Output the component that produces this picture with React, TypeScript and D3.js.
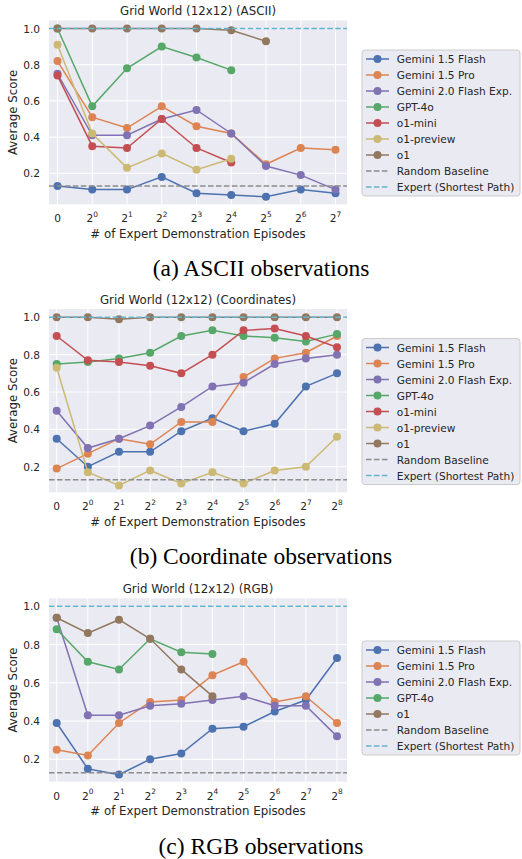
import React from 'react';
import * as d3 from 'd3';

// tick labels ("2^k" is drawn with a superscript)
const ticksAscii = ['0', '2^0', '2^1', '2^2', '2^3', '2^4', '2^5', '2^6', '2^7'];
const ticksCoord = ['0', '2^0', '2^1', '2^2', '2^3', '2^4', '2^5', '2^6', '2^7', '2^8'];
const ticksRgb = ['0', '2^0', '2^1', '2^2', '2^3', '2^4', '2^5', '2^6', '2^7', '2^8'];
const yTicks = [0.2, 0.4, 0.6, 0.8, 1.0];

const randomBaseline = 0.13;
const expertScore = 1.0;

// (a) ASCII
const asciiFlash = [0.13, 0.11, 0.11, 0.18, 0.09, 0.08, 0.07, 0.11, 0.09];
const asciiPro = [0.82, 0.51, 0.45, 0.57, 0.46, 0.42, 0.25, 0.34, 0.33];
const asciiFlash2 = [0.75, 0.41, 0.41, 0.5, 0.55, 0.42, 0.24, 0.19, 0.11];
const asciiGpt4o = [1.0, 0.57, 0.78, 0.9, 0.84, 0.77];
const asciiO1mini = [0.74, 0.35, 0.34, 0.5, 0.34, 0.26];
const asciiO1preview = [0.91, 0.42, 0.23, 0.31, 0.22, 0.28];
const asciiO1 = [1.0, 1.0, 1.0, 1.0, 1.0, 0.99, 0.93];

// (b) Coordinates
const coordFlash = [0.35, 0.2, 0.28, 0.28, 0.39, 0.46, 0.39, 0.43, 0.63, 0.7];
const coordPro = [0.19, 0.27, 0.35, 0.32, 0.44, 0.44, 0.68, 0.78, 0.81, 0.9];
const coordFlash2 = [0.5, 0.3, 0.35, 0.42, 0.52, 0.63, 0.65, 0.75, 0.78, 0.8];
const coordGpt4o = [0.75, 0.76, 0.78, 0.81, 0.9, 0.93, 0.9, 0.89, 0.87, 0.91];
const coordO1mini = [0.9, 0.77, 0.76, 0.74, 0.7, 0.8, 0.93, 0.94, 0.9, 0.84];
const coordO1preview = [0.73, 0.17, 0.1, 0.18, 0.11, 0.17, 0.11, 0.18, 0.2, 0.36];
const coordO1 = [1.0, 1.0, 0.99, 1.0, 1.0, 1.0, 1.0, 1.0, 1.0, 1.0];

// (c) RGB
const rgbFlash = [0.39, 0.15, 0.12, 0.2, 0.23, 0.36, 0.37, 0.45, 0.51, 0.73];
const rgbPro = [0.25, 0.22, 0.39, 0.5, 0.51, 0.64, 0.71, 0.5, 0.53, 0.39];
const rgbFlash2 = [0.94, 0.43, 0.43, 0.48, 0.49, 0.51, 0.53, 0.48, 0.48, 0.32];
const rgbGpt4o = [0.88, 0.71, 0.67, 0.83, 0.76, 0.75];
const rgbO1 = [0.94, 0.86, 0.93, 0.83, 0.67, 0.53];

const colors: Record<string, string> = {
  'Gemini 1.5 Flash': '#4C72B0',
  'Gemini 1.5 Pro': '#DD8452',
  'Gemini 2.0 Flash Exp.': '#8172B3',
  'GPT-4o': '#55A868',
  'o1-mini': '#C44E52',
  'o1-preview': '#CCB974',
  'o1': '#937860',
};
const baseColor = '#8C8C8C';
const expertColor = '#64B5CD';
const font = 'DejaVu Sans';

type Series = { name: string; values: number[] };

const panels = [
  {
    title: 'Grid World (12x12) (ASCII)',
    caption: '(a) ASCII observations',
    ticks: ticksAscii,
    series: [
      { name: 'Gemini 1.5 Flash', values: asciiFlash },
      { name: 'Gemini 1.5 Pro', values: asciiPro },
      { name: 'Gemini 2.0 Flash Exp.', values: asciiFlash2 },
      { name: 'GPT-4o', values: asciiGpt4o },
      { name: 'o1-mini', values: asciiO1mini },
      { name: 'o1-preview', values: asciiO1preview },
      { name: 'o1', values: asciiO1 },
    ] as Series[],
    box: { left: 49, right: 347, top: 20.5, bottom: 204.3 },
    xr: [57.5, 335.5],
    yr: [173.3, 28.5],
    legTop: 50,
  },
  {
    title: 'Grid World (12x12) (Coordinates)',
    caption: '(b) Coordinate observations',
    ticks: ticksCoord,
    series: [
      { name: 'Gemini 1.5 Flash', values: coordFlash },
      { name: 'Gemini 1.5 Pro', values: coordPro },
      { name: 'Gemini 2.0 Flash Exp.', values: coordFlash2 },
      { name: 'GPT-4o', values: coordGpt4o },
      { name: 'o1-mini', values: coordO1mini },
      { name: 'o1-preview', values: coordO1preview },
      { name: 'o1', values: coordO1 },
    ] as Series[],
    box: { left: 49, right: 347, top: 309, bottom: 492.3 },
    xr: [56.7, 337],
    yr: [466.7, 317.3],
    legTop: 338.5,
  },
  {
    title: 'Grid World (12x12) (RGB)',
    caption: '(c) RGB observations',
    ticks: ticksRgb,
    series: [
      { name: 'Gemini 1.5 Flash', values: rgbFlash },
      { name: 'Gemini 1.5 Pro', values: rgbPro },
      { name: 'Gemini 2.0 Flash Exp.', values: rgbFlash2 },
      { name: 'GPT-4o', values: rgbGpt4o },
      { name: 'o1', values: rgbO1 },
    ] as Series[],
    box: { left: 49, right: 347, top: 598.3, bottom: 781.7 },
    xr: [56.7, 337],
    yr: [759.3, 606.3],
    legTop: 641,
  },
];

const TickLabel = ({ label, x, y }: { label: string; x: number; y: number }) => {
  const [base, exp] = label.split('^');
  return (
    <text x={x} y={y} textAnchor="middle" fontFamily={font} fontSize={10.6} fill="#262626" dominantBaseline="central">
      {base}
      {exp !== undefined && (
        <tspan fontSize={7.4} dy={-4.5}>
          {exp}
        </tspan>
      )}
    </text>
  );
};

const Panel = ({ p }: { p: (typeof panels)[number] }) => {
  const { box } = p;
  const x = d3.scaleLinear().domain([0, p.ticks.length - 1]).range(p.xr);
  const y = d3.scaleLinear().domain([0.2, 1.0]).range(p.yr);
  const line = d3
    .line<number>()
    .x((_, i) => x(i))
    .y((d) => y(d));
  const cx = (box.left + box.right) / 2;
  const cy = (box.top + box.bottom) / 2;

  const legendItems = [
    ...p.series.map((s) => ({ name: s.name, color: colors[s.name], dashed: false })),
    { name: 'Random Baseline', color: baseColor, dashed: true },
    { name: 'Expert (Shortest Path)', color: expertColor, dashed: true },
  ];
  const rowH = 16;
  const legH = legendItems.length * rowH + 2;

  return (
    <g>
      <rect x={box.left} y={box.top} width={box.right - box.left} height={box.bottom - box.top} fill="#EAEAF2" />
      {p.ticks.map((t, i) => (
        <line key={'gx' + i} x1={x(i)} x2={x(i)} y1={box.top} y2={box.bottom} stroke="#fff" strokeWidth={1} />
      ))}
      {yTicks.map((t) => (
        <line key={'gy' + t} x1={box.left} x2={box.right} y1={y(t)} y2={y(t)} stroke="#fff" strokeWidth={1} />
      ))}
      {p.series.map((s) => (
        <g key={s.name}>
          <path d={line(s.values) || ''} fill="none" stroke={colors[s.name]} strokeWidth={1.5} />
          {s.values.map((v, i) => (
            <circle key={i} cx={x(i)} cy={y(v)} r={4} fill={colors[s.name]} />
          ))}
        </g>
      ))}
      <line x1={box.left} x2={box.right} y1={y(randomBaseline)} y2={y(randomBaseline)} stroke={baseColor} strokeWidth={1.5} strokeDasharray="5.55,2.4" />
      <line x1={box.left} x2={box.right} y1={y(expertScore)} y2={y(expertScore)} stroke={expertColor} strokeWidth={1.5} strokeDasharray="5.55,2.4" />

      {yTicks.map((t) => (
        <text key={'ty' + t} x={40} y={y(t)} textAnchor="end" dominantBaseline="central" fontFamily={font} fontSize={10.6} fill="#262626">
          {t.toFixed(1)}
        </text>
      ))}
      {p.ticks.map((t, i) => (
        <TickLabel key={'tx' + i} label={t} x={x(i)} y={box.bottom + 14} />
      ))}
      <text x={cx} y={box.top - 9.5} textAnchor="middle" dominantBaseline="central" fontFamily={font} fontSize={11.8} fill="#262626">
        {p.title}
      </text>
      <text x={cx} y={box.bottom + 29.5} textAnchor="middle" dominantBaseline="central" fontFamily={font} fontSize={11.8} fill="#262626">
        # of Expert Demonstration Episodes
      </text>
      <text transform={`translate(12.7,${cy}) rotate(-90)`} textAnchor="middle" dominantBaseline="central" fontFamily={font} fontSize={11.8} fill="#262626">
        Average Score
      </text>

      <rect x={362} y={p.legTop} width={158} height={legH} rx={3} fill="#EAEAF2" stroke="#CCCCCC" strokeWidth={1} />
      {legendItems.map((it, i) => {
        const ry = p.legTop + 9 + i * rowH;
        return (
          <g key={it.name}>
            <line x1={366} x2={389} y1={ry} y2={ry} stroke={it.color} strokeWidth={1.5} strokeDasharray={it.dashed ? '5.55,2.4' : undefined} />
            {!it.dashed && <circle cx={377.5} cy={ry} r={4} fill={it.color} />}
            <text x={396.7} y={ry} dominantBaseline="central" fontFamily={font} fontSize={10.6} fill="#262626">
              {it.name}
            </text>
          </g>
        );
      })}

      <text x={261} y={box.bottom + 64} textAnchor="middle" dominantBaseline="central" fontFamily="Liberation Serif" fontSize={23.5} fill="#000">
        {p.caption}
      </text>
    </g>
  );
};

export default function App() {
  return (
    <svg width={522} height={859} style={{ position: 'absolute', left: 0, top: 0, background: '#fff' }}>
      {panels.map((p) => (
        <Panel key={p.title} p={p} />
      ))}
    </svg>
  );
}
